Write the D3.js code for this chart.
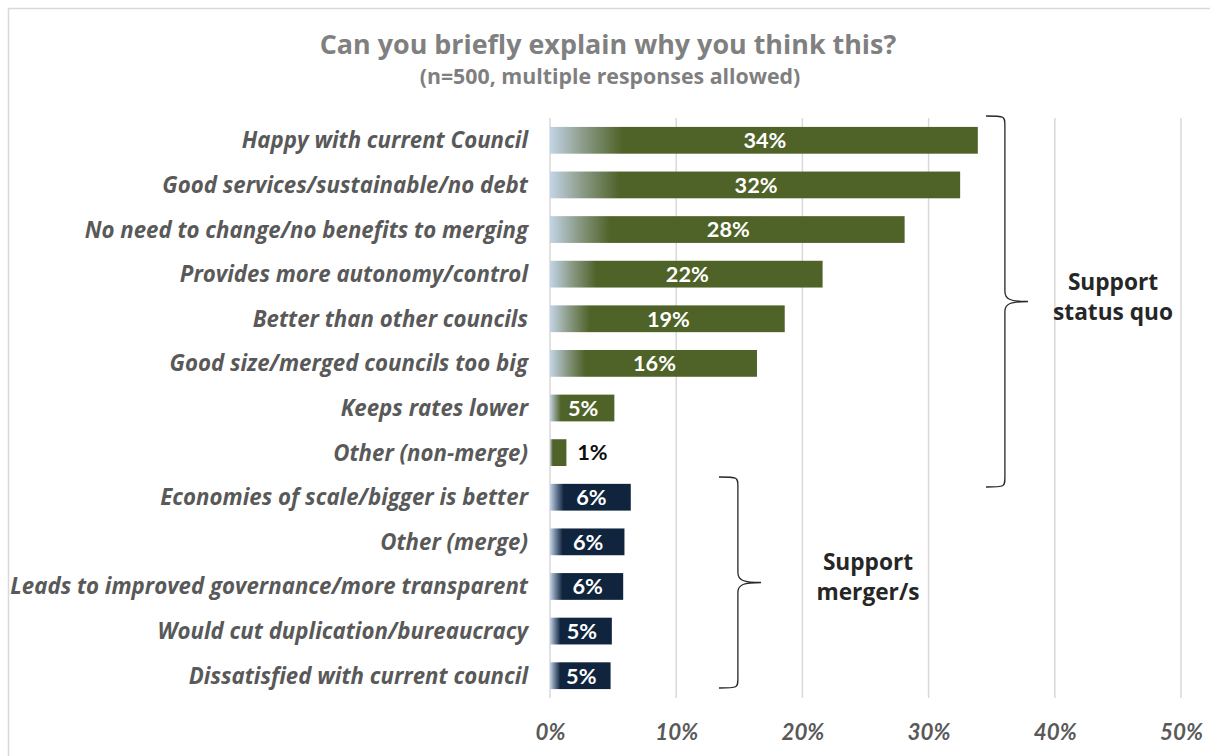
<!DOCTYPE html>
<html><head><meta charset="utf-8">
<script src="https://cdn.jsdelivr.net/npm/d3@7"></script>
<style>body{margin:0;background:#fff;} svg{display:block;}</style>
</head><body>
<script>
const categories = [
  "Happy with current Council",
  "Good services/sustainable/no debt",
  "No need to change/no benefits to merging",
  "Provides more autonomy/control",
  "Better than other councils",
  "Good size/merged councils too big",
  "Keeps rates lower",
  "Other (non-merge)",
  "Economies of scale/bigger is better",
  "Other (merge)",
  "Leads to improved governance/more transparent",
  "Would cut duplication/bureaucracy",
  "Dissatisfied with current council"
];
const values = [33.9, 32.5, 28.1, 21.6, 18.6, 16.4, 5.1, 1.3, 6.4, 5.9, 5.8, 4.9, 4.8];
const valueLabels = ["34%","32%","28%","22%","19%","16%","5%","1%","6%","6%","6%","5%","5%"];
const groups = ["quo","quo","quo","quo","quo","quo","quo","quo","merge","merge","merge","merge","merge"];
const xTicks = [0, 10, 20, 30, 40, 50];
const groupLabels = [["Support","status quo"],["Support","merger/s"]];

const W = 1210, H = 756;
const svg = d3.select("body").append("svg").attr("width", W).attr("height", H);
const font = "'Open Sans', Lato, sans-serif";
const numFont = "Lato, 'Open Sans', sans-serif";

// scale font size of a selection so that the widest item reaches target width
function fit(sel, base, target) {
  sel.attr("font-size", base);
  let mx = 0;
  sel.each(function() { mx = Math.max(mx, this.getComputedTextLength()); });
  const s = base * target / mx;
  sel.attr("font-size", s);
  return s;
}

svg.append("rect").attr("x", 8.5).attr("y", 8.5).attr("width", W).attr("height", H)
  .attr("fill", "none").attr("stroke", "#d9d9d9").attr("stroke-width", 1.5);

const x = d3.scaleLinear().domain([0, 50]).range([550, 1181]);
const y = d3.scaleBand().domain(categories).range([118, 698]).paddingInner(0.4).paddingOuter(0.2);

const defs = svg.append("defs");
const grads = {quo: "#4f6228", merge: "#10243e"};
Object.entries(grads).forEach(([k, c]) => {
  const g = defs.append("linearGradient").attr("id", "g-" + k).attr("x1", "0").attr("x2", "1").attr("y1", "0").attr("y2", "0");
  g.append("stop").attr("offset", "0").attr("stop-color", "#c3d4e6");
  g.append("stop").attr("offset", "0.08").attr("stop-color", k === "quo" ? "#8a9a86" : "#6a7e98");
  g.append("stop").attr("offset", "0.17").attr("stop-color", c);
  g.append("stop").attr("offset", "1").attr("stop-color", c);
});

// title
const t1 = svg.append("text").attr("x", 608).attr("y", 54).attr("text-anchor", "middle")
  .attr("font-family", font).attr("font-weight", "bold").attr("fill", "#808080")
  .text("Can you briefly explain why you think this?");
fit(t1, 24, 577);
const t2 = svg.append("text").attr("x", 610).attr("y", 84).attr("text-anchor", "middle")
  .attr("font-family", font).attr("font-weight", "bold").attr("fill", "#7f7f7f")
  .text("(n=500, multiple responses allowed)");
fit(t2, 17, 381);

// grid
svg.append("g").selectAll("line").data(xTicks).join("line")
  .attr("x1", d => x(d)).attr("x2", d => x(d)).attr("y1", 118).attr("y2", 698)
  .attr("stroke", "#d9d9d9").attr("stroke-width", 1.5);

// x axis labels
const xAxis = d3.axisBottom(x).tickValues(xTicks).tickFormat(d => d + "%").tickSize(0).tickPadding(0);
const xa = svg.append("g").attr("transform", "translate(0,740)").call(xAxis);
xa.select(".domain").remove();
const xt = xa.selectAll("text").attr("font-family", numFont).attr("font-style", "italic").attr("font-weight", "bold")
  .attr("fill", "#595959").attr("dy", 0);
fit(xt, 18, 43);

// y axis labels
const yAxis = d3.axisLeft(y).tickSize(0).tickPadding(0);
const ya = svg.append("g").attr("transform", "translate(528,0)").call(yAxis);
ya.select(".domain").remove();
const yt = ya.selectAll("text").attr("font-family", font).attr("font-style", "italic").attr("font-weight", "bold")
  .attr("fill", "#595959").attr("dy", "0.36em");
fit(yt, 18, 518);

// bars
svg.append("g").selectAll("rect").data(categories).join("rect")
  .attr("x", x(0)).attr("y", d => y(d)).attr("height", y.bandwidth())
  .attr("width", (d, i) => x(values[i]) - x(0))
  .attr("fill", (d, i) => `url(#g-${groups[i]})`);

// value labels
const vl = svg.append("g").selectAll("text").data(categories).join("text")
  .attr("x", (d, i) => values[i] < 3 ? x(values[i]) + 26 : (x(0) + x(values[i])) / 2 + 1)
  .attr("y", d => y(d) + y.bandwidth() / 2)
  .attr("dy", "0.36em")
  .attr("text-anchor", "middle")
  .attr("font-family", numFont).attr("font-weight", "bold")
  .attr("fill", (d, i) => values[i] < 3 ? "#0d0d0d" : "#ffffff")
  .text((d, i) => valueLabels[i]);
fit(vl, 18, 43);

// braces
function brace(xl, y0, y1, w) {
  const ym = (y0 + y1) / 2, xm = xl + w * 0.45, xt = xl + w;
  return `M${xl},${y0} C${xm},${y0} ${xm},${y0} ${xm},${y0 + 10}
    L${xm},${ym - 10} C${xm},${ym - 2} ${xm + 6},${ym} ${xt},${ym}
    C${xm + 6},${ym} ${xm},${ym + 2} ${xm},${ym + 10}
    L${xm},${y1 - 10} C${xm},${y1} ${xm},${y1} ${xl},${y1}`;
}
svg.append("path").attr("d", brace(986, 116, 487, 42)).attr("fill", "none").attr("stroke", "#262626").attr("stroke-width", 1.3);
svg.append("path").attr("d", brace(719, 477, 688, 42)).attr("fill", "none").attr("stroke", "#262626").attr("stroke-width", 1.3);

const gl = [[1113, 290], [868, 570]];
const gt = [];
groupLabels.forEach((lines, k) => {
  const t = svg.append("text").attr("text-anchor", "middle").attr("font-family", font).attr("font-weight", "bold")
    .attr("fill", "#262626");
  lines.forEach((l, j) => t.append("tspan").attr("x", gl[k][0]).attr("y", gl[k][1] + j * 30).text(l));
  gt.push(t);
});
const probe = svg.append("text").attr("font-family", font).attr("font-weight", "bold").text(groupLabels[0][1]);
const gs = fit(probe, 19, 120);
probe.remove();
gt.forEach(t => t.attr("font-size", gs));
</script>
</body></html>
